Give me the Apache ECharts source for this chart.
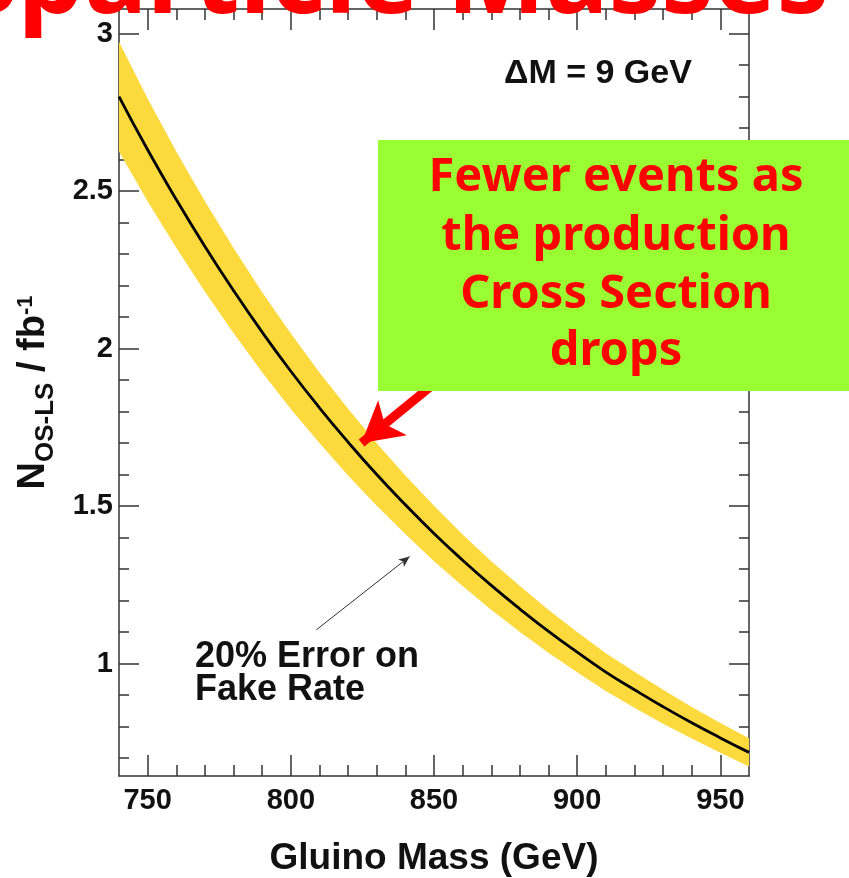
<!DOCTYPE html>
<html>
<head>
<meta charset="utf-8">
<style>
html,body{margin:0;padding:0;background:#fff;}
#chart{width:849px;height:878px;}
</style>
<script src="https://cdn.jsdelivr.net/npm/echarts@6/dist/echarts.min.js"></script>
</head>
<body>
<div id="chart"></div>
<script>
// ---- data ----
const gluinoMass = [740,750,760,770,780,790,800,810,820,830,840,850,860,870,880,890,900,910,920,930,940,950,960];
const nCentral   = [2.80,2.631,2.473,2.324,2.184,2.052,1.928,1.812,1.703,1.600,1.504,1.413,1.328,1.248,1.173,1.102,1.036,0.973,0.917,0.863,0.812,0.764,0.718];
const nUpper     = [2.974,2.794,2.626,2.468,2.319,2.179,2.048,1.924,1.809,1.699,1.597,1.501,1.410,1.325,1.246,1.170,1.100,1.033,0.974,0.917,0.862,0.811,0.763];
const nLower     = [2.626,2.468,2.320,2.180,2.049,1.925,1.808,1.700,1.597,1.501,1.411,1.325,1.246,1.171,1.100,1.034,0.972,0.913,0.860,0.809,0.762,0.717,0.673];

const massMajorTicks = [750,800,850,900,950];
const massMinorTicks = [750,760,770,780,790,800,810,820,830,840,850,860,870,880,890,900,910,920,930,940,950];
const nMajorTicks = [1,1.5,2,2.5,3];
const nMinorTicks = [0.7,0.8,0.9,1,1.1,1.2,1.3,1.4,1.5,1.6,1.7,1.8,1.9,2,2.1,2.2,2.3,2.4,2.5,2.6,2.7,2.8,2.9,3];

const massRange = [740,960];
const nRange = [0.643,3.078];

const noteText = ['Fewer events as','the production','Cross Section','drops'];
const redArrow = [[858,1.948],[824.7,1.70]];
const thinArrow = [[808.9,1.107],[841.5,1.340]];

// ---- chart ----
const AX = '#333';
const FONT = '"Liberation Sans", Arial, Helvetica, sans-serif';
const NOTE_FONT = 'bold 47px "Comic Sans MS", "Noto Sans", sans-serif';

function axis(kind, position, ticks, len, opts) {
  return Object.assign({
    type: 'value',
    position: position,
    min: kind === 'x' ? massRange[0] : nRange[0],
    max: kind === 'x' ? massRange[1] : nRange[1],
    axisLine: {show: false},
    splitLine: {show: false},
    axisTick: {show: true, inside: true, length: len, customValues: ticks, lineStyle: {color: AX, width: 1.5}},
    axisLabel: {show: false},
    minorTick: {show: false}
  }, opts || {});
}

const chart = echarts.init(document.getElementById('chart'), null, {renderer: 'canvas'});

const option = {
  animation: false,
  backgroundColor: '#fff',
  grid: {left: 119, top: 9, width: 630, height: 767, containLabel: false, outerBoundsMode: 'none'},
  xAxis: [
    axis('x','bottom', massMajorTicks, 21, {
      axisLine: {show: true, onZero: false, lineStyle: {color: AX, width: 1.5}},
      axisLabel: {show: true, customValues: massMajorTicks, margin: 10, color: '#111',
        fontSize: 29, fontWeight: 'bold', fontFamily: FONT},
      name: 'Gluino Mass (GeV)', nameLocation: 'middle', nameGap: 64,
      nameTextStyle: {fontSize: 37, fontWeight: 'bold', color: '#111', fontFamily: FONT}
    }),
    axis('x','bottom', massMinorTicks, 11),
    axis('x','top', massMajorTicks, 21, {axisLine: {show: true, onZero: false, lineStyle: {color: AX, width: 1.5}}}),
    axis('x','top', massMinorTicks, 11)
  ],
  yAxis: [
    axis('y','left', nMajorTicks, 20, {
      axisLine: {show: true, onZero: false, lineStyle: {color: AX, width: 1.5}},
      axisLabel: {show: true, customValues: nMajorTicks, margin: 6, color: '#111',
        fontSize: 29, fontWeight: 'bold', fontFamily: FONT},
      name: '{n|N}{sub|OS-LS}{n| / fb}{sup|-1}',
      nameLocation: 'middle', nameRotate: 90, nameGap: 60,
      nameTextStyle: {
        color: '#111',
        rich: {
          n:   {fontSize: 38, fontWeight: 'bold', fontFamily: FONT, lineHeight: 44, verticalAlign: 'top', color: '#111'},
          sub: {fontSize: 26, fontWeight: 'bold', fontFamily: FONT, lineHeight: 26, verticalAlign: 'top', padding: [18,0,0,0], color: '#111'},
          sup: {fontSize: 22, fontWeight: 'bold', fontFamily: FONT, lineHeight: 22, verticalAlign: 'top', padding: [0,0,0,0], color: '#111'}
        }
      }
    }),
    axis('y','left', nMinorTicks, 10),
    axis('y','right', nMajorTicks, 20, {axisLine: {show: true, onZero: false, lineStyle: {color: AX, width: 1.5}}}),
    axis('y','right', nMinorTicks, 10)
  ],
  series: [
    {
      type: 'custom',
      name: 'band',
      xAxisIndex: 0, yAxisIndex: 0,
      clip: true,
      silent: true,
      z: 1,
      data: [[gluinoMass[0], nCentral[0]]],
      renderItem: function (params, api) {
        const pts = [];
        for (let i = 0; i < gluinoMass.length; i++) pts.push(api.coord([gluinoMass[i], nUpper[i]]));
        for (let i = gluinoMass.length - 1; i >= 0; i--) pts.push(api.coord([gluinoMass[i], nLower[i]]));
        return {type: 'polygon', shape: {points: pts}, style: {fill: '#FCD93D', stroke: null}};
      }
    },
    {
      type: 'line',
      name: 'central',
      xAxisIndex: 0, yAxisIndex: 0,
      data: gluinoMass.map((m, i) => [m, nCentral[i]]),
      smooth: true,
      symbol: 'none',
      z: 3,
      silent: true,
      lineStyle: {color: '#000', width: 2.8},
      markLine: {
        silent: true,
        animation: false,
        label: {show: false},
        data: [
          [{coord: redArrow[0], symbol: 'none', lineStyle: {color: '#FF0000', width: 9, type: 'solid'}},
           {coord: redArrow[1], symbol: 'arrow', symbolSize: [34, 40]}],
          [{coord: thinArrow[0], symbol: 'none', lineStyle: {color: '#333', width: 1, type: 'solid'}},
           {coord: thinArrow[1], symbol: 'arrow', symbolSize: [7, 11]}]
        ]
      }
    }
  ],
  graphic: [
    {type: 'text', z: 50, style: {text: 'ΔM = 9 GeV', x: 504, y: 74, textVerticalAlign: 'middle',
      font: 'bold 34px ' + FONT, fill: '#111'}},
    {type: 'text', z: 50, style: {text: '20% Error on', x: 195, y: 657, textVerticalAlign: 'middle',
      font: 'bold 36px ' + FONT, fill: '#111'}},
    {type: 'text', z: 50, style: {text: 'Fake Rate', x: 195, y: 690, textVerticalAlign: 'middle',
      font: 'bold 36px ' + FONT, fill: '#111'}},
    {type: 'rect', z: 60, shape: {x: 378, y: 140, width: 471, height: 251}, style: {fill: '#99FF33'}},
    {type: 'text', z: 61, style: {text: noteText[0], x: 616, y: 178, textAlign: 'center', textVerticalAlign: 'middle', font: NOTE_FONT, fill: '#FF0000'}},
    {type: 'text', z: 61, style: {text: noteText[1], x: 616, y: 237, textAlign: 'center', textVerticalAlign: 'middle', font: NOTE_FONT, fill: '#FF0000'}},
    {type: 'text', z: 61, style: {text: noteText[2], x: 616, y: 295, textAlign: 'center', textVerticalAlign: 'middle', font: NOTE_FONT, fill: '#FF0000'}},
    {type: 'text', z: 61, style: {text: noteText[3], x: 616, y: 352, textAlign: 'center', textVerticalAlign: 'middle', font: NOTE_FONT, fill: '#FF0000'}},
    {type: 'text', z: 70, style: {text: 'Sparticle Masses', x: -40, y: 36, textVerticalAlign: 'bottom',
      font: 'bold 105px "Comic Sans MS", "Noto Sans", sans-serif', fill: '#FF0000'}}
  ]
};

chart.setOption(option);
</script>
</body>
</html>
